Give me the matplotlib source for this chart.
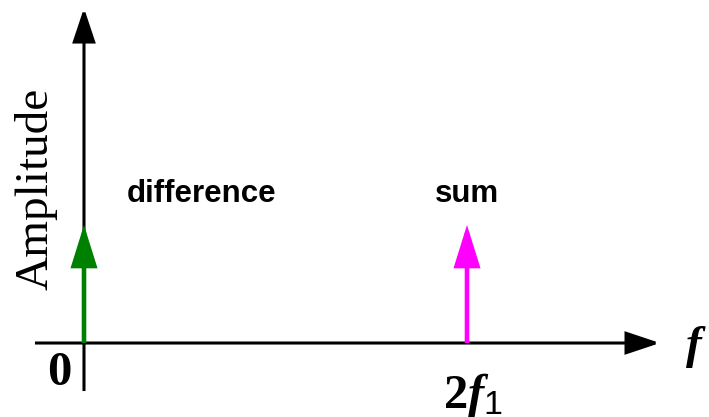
import matplotlib
matplotlib.use("Agg")
import matplotlib.pyplot as plt

# spectrum lines (frequency in units of f1, relative amplitude)
freqs = [0, 2]
amps = [1, 1]
names = ["difference", "sum"]
colors = ["#008000", "#FF00FF"]
freq_ticks = [0, 2]
freq_labels = [r"$\mathrm{0}$", r"$\mathrm{2}f_{\mathsf{1}}$"]

plt.rcParams["mathtext.fontset"] = "custom"
plt.rcParams["mathtext.rm"] = "Liberation Serif:bold"
plt.rcParams["mathtext.it"] = "Liberation Serif:italic:bold"
plt.rcParams["mathtext.sf"] = "Liberation Sans"

fig = plt.figure(figsize=(7.09, 4.17), dpi=100)
ax = fig.add_axes([0, 0, 1, 1])
ax.set_xlim(-0.4386, 3.2637)
ax.set_ylim(-0.627, 2.907)
ax.axis("off")


def arrow(x0, y0, x1, y1, color, lw, hl, hw):
    ax.annotate(
        "",
        xy=(x1, y1),
        xytext=(x0, y0),
        arrowprops=dict(
            arrowstyle=f"-|>,head_length={hl},head_width={hw}",
            color=color,
            lw=lw,
            shrinkA=0,
            shrinkB=0,
            mutation_scale=1,
            joinstyle="miter",
            capstyle="butt",
        ),
    )


# coordinate axes
arrow(-0.256, 0, 3.008, 0, "black", 2.2, 21, 7)
arrow(0, -0.407, 0, 2.839, "black", 2.2, 21, 7)

# spectral lines
for f, a, name, c in zip(freqs, amps, names, colors):
    arrow(f, 0, f, a, c, 3.3, 24, 7.5)
    if f == 0:
        ax.annotate(name, xy=(f, a), xytext=(31, 22), textcoords="offset points",
                    ha="left", va="center", fontsize=22.5, fontweight="bold",
                    family="Liberation Sans")
    else:
        ax.annotate(name, xy=(f, a), xytext=(0, 22), textcoords="offset points",
                    ha="center", va="center", fontsize=22.5, fontweight="bold",
                    family="Liberation Sans")

# tick labels under the frequency axis
for f, lab in zip(freq_ticks, freq_labels):
    if f == 0:
        ax.annotate(lab, xy=(f, 0), xytext=(-18, -20), textcoords="offset points",
                    ha="center", va="center", fontsize=35)
    else:
        ax.annotate(lab, xy=(f, 0), xytext=(4, -38), textcoords="offset points",
                    ha="center", va="center", fontsize=35)

ax.text(-0.25, 1.31, "Amplitude", rotation=90, ha="center", va="center",
        fontsize=34, family="Liberation Serif")
ax.annotate(r"$f$", xy=(3.008, 0), xytext=(26, -3), textcoords="offset points",
            ha="center", va="center", fontsize=34)

fig.savefig("out.png", dpi=100)
